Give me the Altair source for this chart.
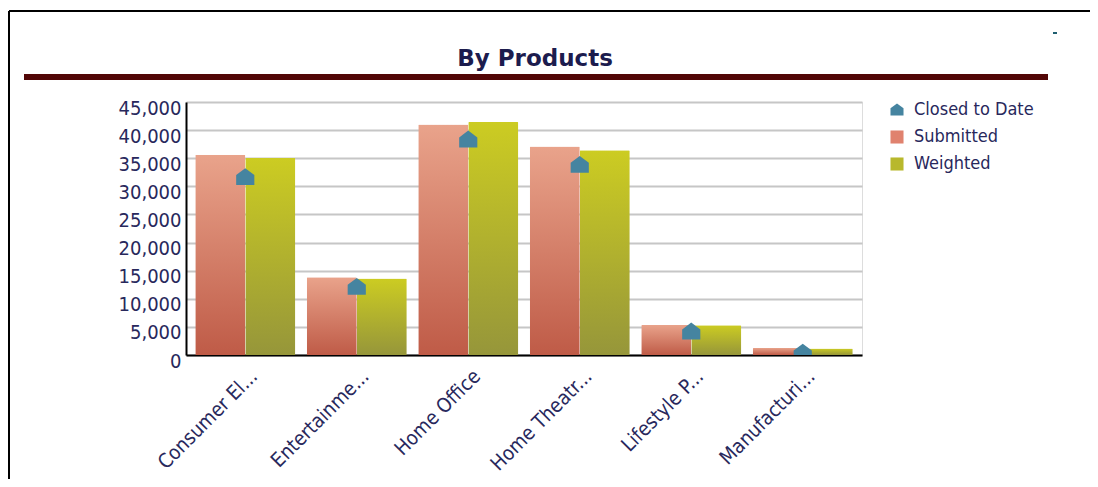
import altair as alt
import pandas as pd

categories = ["Consumer El...", "Entertainme...", "Home Office", "Home Theatr...", "Lifestyle P...", "Manufacturi..."]
submitted = [35600, 13850, 41000, 37100, 5350, 1250]
weighted = [35050, 13600, 41450, 36400, 5300, 1150]
closed = [31600, 12100, 38300, 33800, 4150, 400]
series_names = ["Closed to Date", "Submitted", "Weighted"]
y_ticks = [0, 5000, 10000, 15000, 20000, 25000, 30000, 35000, 40000, 45000]

rows = []
for c, s, w, k in zip(categories, submitted, weighted, closed):
    rows.append({"category": c, "series": "Submitted", "value": s})
    rows.append({"category": c, "series": "Weighted", "value": w})
    rows.append({"category": c, "series": "Closed to Date", "value": k})
df = pd.DataFrame(rows)

FONT = "DejaVu Sans Condensed, DejaVu Sans"
TXT = "#28285c"

x_enc = alt.X("category:N", sort=categories, title=None,
              scale=alt.Scale(paddingInner=0.103, paddingOuter=0.083),
              axis=alt.Axis(labelAngle=-45, labelAlign="right", labelBaseline="middle",
                            labelFontSize=20, labelColor=TXT, labelFont=FONT,
                            labelPadding=18, labelOffset=9, ticks=False,
                            domainColor="black", domainWidth=2, labelLimit=250))
y_enc = alt.Y("value:Q", title=None,
              scale=alt.Scale(domain=[0, 45000], nice=False),
              axis=alt.Axis(values=y_ticks, format=",d", labelFontSize=20, labelColor=TXT,
                            labelFont=FONT, ticks=False, labelPadding=5, labelOffset=6,
                            domainColor="black", domainWidth=2,
                            gridColor="#c6c6c6", gridWidth=2))
xoff = alt.XOffset("series:N", scale=alt.Scale(domain=["Submitted", "Weighted"], paddingInner=0, paddingOuter=0))

def grad(top, bottom):
    return alt.Gradient(gradient="linear",
                        stops=[alt.GradientStop(color=top, offset=0),
                               alt.GradientStop(color=bottom, offset=1)],
                        x1=0, x2=0, y1=0, y2=1)

base = alt.Chart(df)

sub_bars = base.transform_filter(alt.datum.series == "Submitted").mark_bar(
    fill=grad("#e9a38b", "#bf5b47"), cornerRadiusTopLeft=1, cornerRadiusTopRight=1
).encode(x=x_enc, y=y_enc, xOffset=xoff)

wt_bars = base.transform_filter(alt.datum.series == "Weighted").mark_bar(
    fill=grad("#cccc22", "#96963a"), cornerRadiusTopLeft=1, cornerRadiusTopRight=1
).encode(x=x_enc, y=y_enc, xOffset=xoff)

house = "M0,-1 L1,-0.25 L1,0.85 L-1,0.85 L-1,-0.25 Z"
legend = alt.Legend(title=None, orient="none", legendX=702, legendY=-1,
                    labelFontSize=18, labelColor=TXT, labelFont=FONT,
                    symbolSize=170, rowPadding=9, symbolStrokeWidth=0,
                    labelOffset=8)
pts = base.transform_filter(alt.datum.series == "Closed to Date").mark_point(
    filled=True, size=330, opacity=1, clip=True
).encode(
    x=x_enc, y=y_enc,
    color=alt.Color("series:N", scale=alt.Scale(domain=series_names,
                                               range=["#4584a0", "#e0826e", "#b8b82c"]),
                    legend=legend),
    shape=alt.Shape("series:N", scale=alt.Scale(domain=series_names,
                                               range=[house, "square", "square"]),
                    legend=legend),
)

deco = pd.DataFrame({"k": [0]})
title = alt.Chart(deco).mark_text(
    text="By Products", font="DejaVu Sans", fontSize=23, fontWeight="bold", color="#1c1c4e",
    align="center", baseline="middle"
).encode(x=alt.value(349), y=alt.value(-43))
red_line = alt.Chart(deco).mark_rule(color="#520606", strokeWidth=6).encode(
    x=alt.value(-162), x2=alt.value(862), y=alt.value(-25))
border_top = alt.Chart(deco).mark_rule(color="black", strokeWidth=2).encode(
    x=alt.value(-177), x2=alt.value(920), y=alt.value(-91))
border_left = alt.Chart(deco).mark_rule(color="black", strokeWidth=2).encode(
    x=alt.value(-177), y=alt.value(-91), y2=alt.value(400))
tick_mark = alt.Chart(deco).mark_rule(color="#1f5f70", strokeWidth=2).encode(
    x=alt.value(867), x2=alt.value(871), y=alt.value(-69))

chart = alt.layer(
    sub_bars, wt_bars, pts, title, red_line, border_top, border_left, tick_mark
).properties(
    width=676, height=253,
    padding={"left": 178, "top": 94, "right": 228, "bottom": 124},
    autosize=alt.AutoSizeParams(type="none"),
).configure_view(stroke=None).configure(background="white")

chart.save("out.html", embed_options={"renderer": "svg", "actions": False})
